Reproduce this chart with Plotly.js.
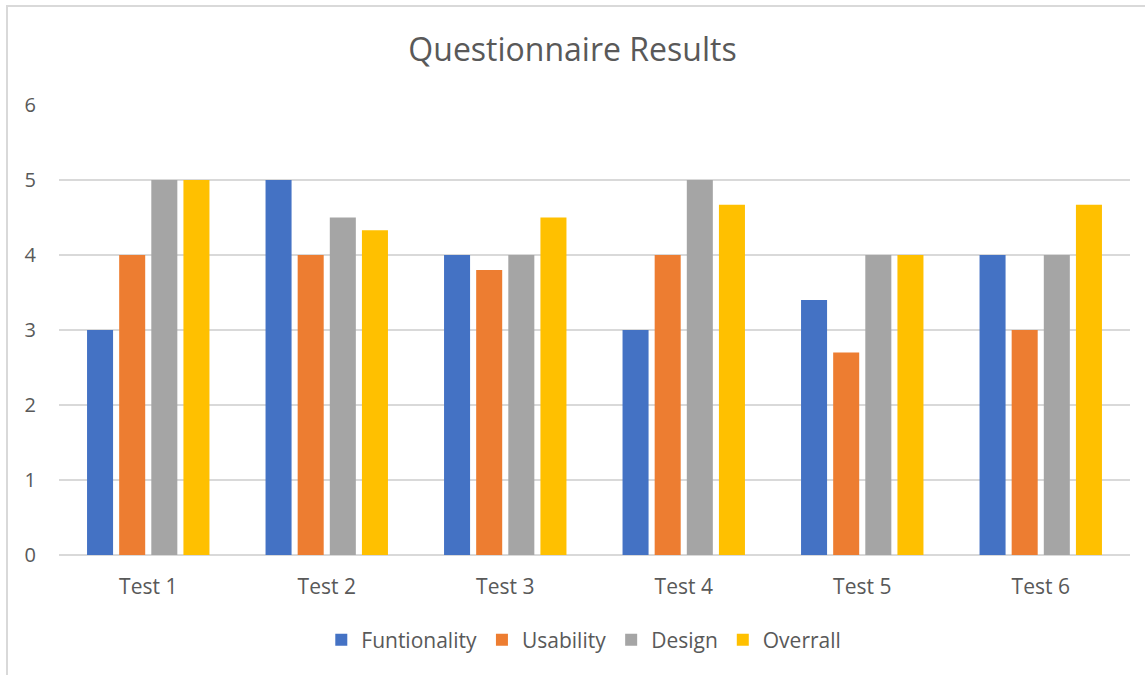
<!DOCTYPE html>
<html>
<head>
<meta charset="utf-8">
<script src="https://cdn.plot.ly/plotly-3.0.1.min.js"></script>
<style>
html,body{margin:0;padding:0;background:#fff;overflow:hidden;}
#frame{position:absolute;left:6px;top:5px;width:1200px;height:720px;border:2px solid #d9d9d9;box-sizing:border-box;pointer-events:none;z-index:5;}
#chart{position:absolute;left:0;top:0;width:1145px;height:675px;}
</style>
</head>
<body>
<div id="chart"></div>
<div id="frame"></div>
<script>
const categories = ["Test 1","Test 2","Test 3","Test 4","Test 5","Test 6"];
const seriesNames = ["Funtionality","Usability","Design","Overrall"];
const funtionality = [3, 5, 4, 3, 3.4, 4];
const usability = [4, 4, 3.8, 4, 2.7, 3];
const design = [5, 4.5, 4, 5, 4, 4];
const overrall = [5, 4.33, 4.5, 4.67, 4, 4.67];
const colors = ["#4472C4","#ED7D31","#A5A5A5","#FFC000"];
const values = [funtionality, usability, design, overrall];

const traces = values.map((v,i)=>({
  type:"bar", name:seriesNames[i], x:categories, y:v,
  marker:{color:colors[i]}, hoverinfo:"x+y+name"
}));

const font = "'Open Sans', Lato, sans-serif";
const layout = {
  width:1145, height:675,
  paper_bgcolor:"rgba(0,0,0,0)", plot_bgcolor:"#fff",
  margin:{l:59, r:15, t:105, b:120},
  barmode:"group", bargap:0.28, bargroupgap:0.19,
  font:{family:font, color:"#595959", size:20},
  title:{text:"Questionnaire Results", font:{family:font, size:32, color:"#595959"},
         x:0.5, xanchor:"center", y:1-50/675, yanchor:"middle", yref:"container"},
  xaxis:{showgrid:false, showline:false, zeroline:false, ticks:"", tickfont:{size:21, color:"#595959"}, ticklabelstandoff:17},
  yaxis:{range:[0,6], dtick:1, showgrid:true, gridcolor:"#d9d9d9", gridwidth:1.5,
         zeroline:true, zerolinecolor:"#d9d9d9", zerolinewidth:1.5, showline:false, ticks:"",
         tickfont:{size:20, color:"#595959"}, ticklabelstandoff:22},
  legend:{orientation:"h", x:0.49, xanchor:"center", y:(555-640)/450, yanchor:"middle",
          font:{size:21, color:"#595959"}, itemwidth:30, traceorder:"normal"},
  showlegend:true
};
Plotly.newPlot("chart", traces, layout, {displayModeBar:false, staticPlot:true});
</script>
</body>
</html>
